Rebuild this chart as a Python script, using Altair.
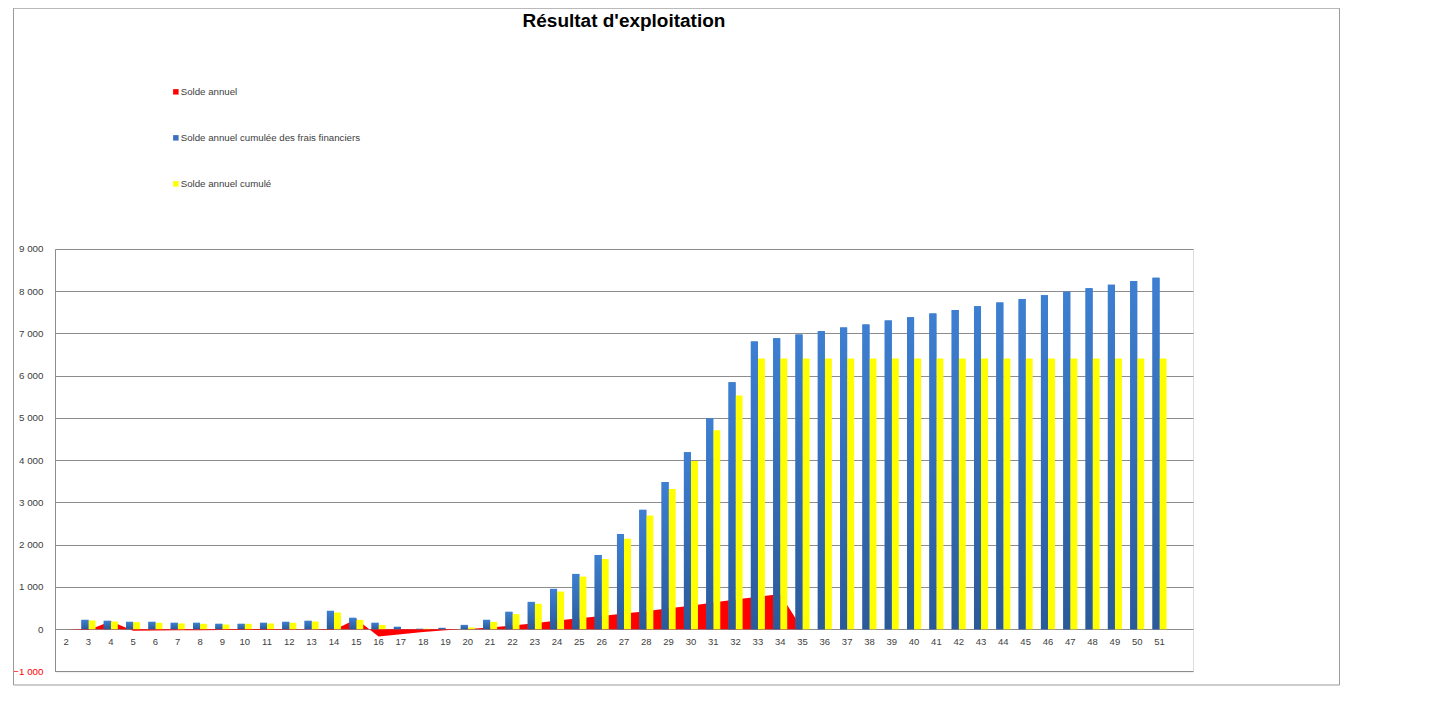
import altair as alt
import pandas as pd

# ---- data ----
categories = [str(c) for c in range(2, 52)]

solde_annuel = [0, -20, 190, -40, -30, -25, -25, -20, -20, -20, -15, -10, -20, 240, -175,
                -120, -70, -25, 5, 40, 85, 140, 205, 260, 310, 370, 425, 495, 555, 630,
                700, 765, 835, 0, 0, 0, 0, 0, 0, 0, 0, 0, 0, 0, 0, 0, 0, 0, 0, 0]

cumul_frais = [0, 220, 197, 173, 173, 150, 150, 126, 126, 150, 173, 197, 433, 268, 150,
               55, 8, 30, 100, 220, 410, 645, 953, 1307, 1756, 2252, 2825, 3482, 4191, 4990,
               5845, 6810, 6885, 6975, 7050, 7140, 7215, 7305, 7385, 7475, 7555, 7645, 7735,
               7815, 7905, 7985, 8070, 8155, 8245, 8320]

cumul = [0, 205, 180, 165, 150, 134, 126, 110, 126, 134, 150, 180, 394, 220, 100,
         0, 10, 0, 40, 173, 355, 600, 890, 1244, 1661, 2140, 2690, 3317, 3980, 4710,
         5533, 6405, 6410, 6410, 6410, 6410, 6410, 6410, 6410, 6410, 6410, 6410, 6410,
         6410, 6410, 6410, 6410, 6410, 6410, 6410]

series_names = ["Solde annuel", "Solde annuel cumulée des frais financiers", "Solde annuel cumulé"]
series_colors = ["#ff0000", "#3a70bd", "#ffff00"]
y_ticks = [-1000, 0, 1000, 2000, 3000, 4000, 5000, 6000, 7000, 8000, 9000]
x_domain = categories + [" "]
title_text = "Résultat d'exploitation"

area_df = pd.DataFrame({"cat": categories, "series": series_names[0], "value": solde_annuel})
bar_df = pd.concat([
    pd.DataFrame({"cat": categories, "series": series_names[1], "value": cumul_frais}),
    pd.DataFrame({"cat": categories, "series": series_names[2], "value": cumul}),
])
blue_df = bar_df[bar_df["series"] == series_names[1]]

W, H = 1138, 422.4

x_enc = alt.X("cat:N", scale=alt.Scale(domain=x_domain, paddingInner=0.37, paddingOuter=0.185),
              sort=None,
              axis=alt.Axis(title=None, labelAngle=0, ticks=False, domain=False, grid=False,
                            offset=-42.24, labelPadding=7, labelFontSize=9.5,
                            labelFont="Liberation Sans", labelColor="#404040"))
y_enc = alt.Y("value:Q", scale=alt.Scale(domain=[-1000, 9000], nice=False, zero=False),
              axis=alt.Axis(title=None, values=y_ticks, ticks=False, grid=True,
                            gridColor="#8c8c8c", gridWidth=1, domainColor="#8c8c8c",
                            labelPadding=12, labelFontSize=9.8, labelFont="Liberation Sans",
                            labelExpr="replace(format(datum.value, ',d'), ',', ' ')",
                            labelColor=alt.expr("datum.value < 0 ? '#ff0000' : '#404040'")))

color_enc = alt.Color("series:N",
                      scale=alt.Scale(domain=series_names, range=series_colors),
                      legend=alt.Legend(title=None, orient="none", legendX=116, legendY=-162,
                                        direction="vertical", symbolType="square", symbolSize=30,
                                        symbolStrokeWidth=0, symbolOpacity=1, rowPadding=35,
                                        labelFontSize=9.7, labelFont="Liberation Sans",
                                        labelLimit=0,
                                        labelColor="#404040", labelOffset=0, padding=0))

xoff = alt.XOffset("series:N", scale=alt.Scale(domain=series_names[1:], paddingInner=0, paddingOuter=0))

area = alt.Chart(area_df).mark_area(opacity=1, interpolate="linear").encode(
    x=x_enc, y=y_enc, color=color_enc)

bars = alt.Chart(bar_df).mark_bar(opacity=1).encode(
    x=x_enc, y=y_enc, xOffset=xoff, color=color_enc)

gradient = {"gradient": "linear", "x1": 0, "y1": 0, "x2": 0, "y2": 1,
            "stops": [{"offset": 0, "color": "#3d7fd2"}, {"offset": 1, "color": "#2b5a98"}]}
blue_bars = alt.Chart(blue_df).mark_bar(fill=gradient, opacity=1).encode(
    x=x_enc, y=y_enc, xOffset=xoff)

one = pd.DataFrame({"t": [title_text]})
title = alt.Chart(one).mark_text(font="Liberation Sans", fontSize=19, fontWeight="bold",
                                 align="center", baseline="alphabetic", color="#000000").encode(
    text="t:N", x=alt.value(569), y=alt.value(-222))

frame = alt.Chart(one).mark_rect(fill=None, stroke="#9a9a9a", strokeWidth=1).encode(
    x=alt.value(-41.5), x2=alt.value(1284.5), y=alt.value(-240.8), y2=alt.value(436))

chart = alt.layer(frame, area, bars, blue_bars, title).properties(
    width=W, height=H,
    autosize=alt.AutoSizeParams(type="none"),
    padding={"left": 47, "top": 241, "right": 200, "bottom": 20},
).configure_view(stroke=None).configure(background="white")

chart.save("out.html", embed_options={"renderer": "svg", "actions": False})
